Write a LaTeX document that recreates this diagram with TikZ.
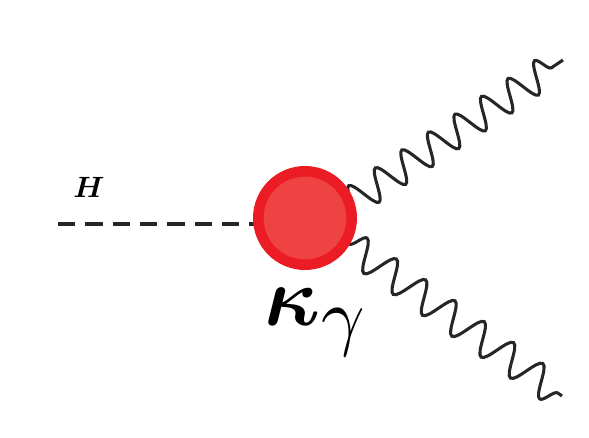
\documentclass[tikz,border=0pt]{standalone}
\usepackage{amsmath,bm,graphicx}
\usetikzlibrary{decorations.pathmorphing}
\definecolor{ringred}{RGB}{236,28,36}
\definecolor{blobred}{RGB}{239,66,66}
\tikzset{
  photon/.style={line width=2.3pt, draw=black!85, decorate, decoration={snake, amplitude=11.5pt, segment length=#1}},
  scalar/.style={line width=2.6pt, dash pattern=on 13pt off 7.5pt, draw=black!85},
}
\begin{document}
\begin{tikzpicture}[x=0.75pt,y=-0.75pt]
\useasboundingbox (0,0) rectangle (589,437);
\coordinate (hstart) at (58,224);
\coordinate (ua) at (349,204);
\coordinate (ub) at (563,60);
\coordinate (la) at (349,244);
\coordinate (lb) at (562,396);
\draw[photon=24pt] (ua) -- (ub);
\draw[photon=27pt] (la) -- (lb);
\draw[scalar] (hstart) -- (255,224);
\node[circle, fill=ringred, minimum size=78pt, inner sep=0pt] (vtx) at (305,218) {};
\node[circle, fill=blobred, minimum size=62pt, inner sep=0pt] at (vtx) {};
\node[inner sep=0pt] (hlab) at (89,187) {\scalebox{2.2}{$\bm{H}$}};
\node[inner sep=0pt, anchor=base west] (klab) at (264,325) {\scalebox{6.3}{$\bm{\kappa}$}\kern1pt\raisebox{-12pt}{\scalebox{5.7}{$\gamma$}}};
\end{tikzpicture}
\end{document}
